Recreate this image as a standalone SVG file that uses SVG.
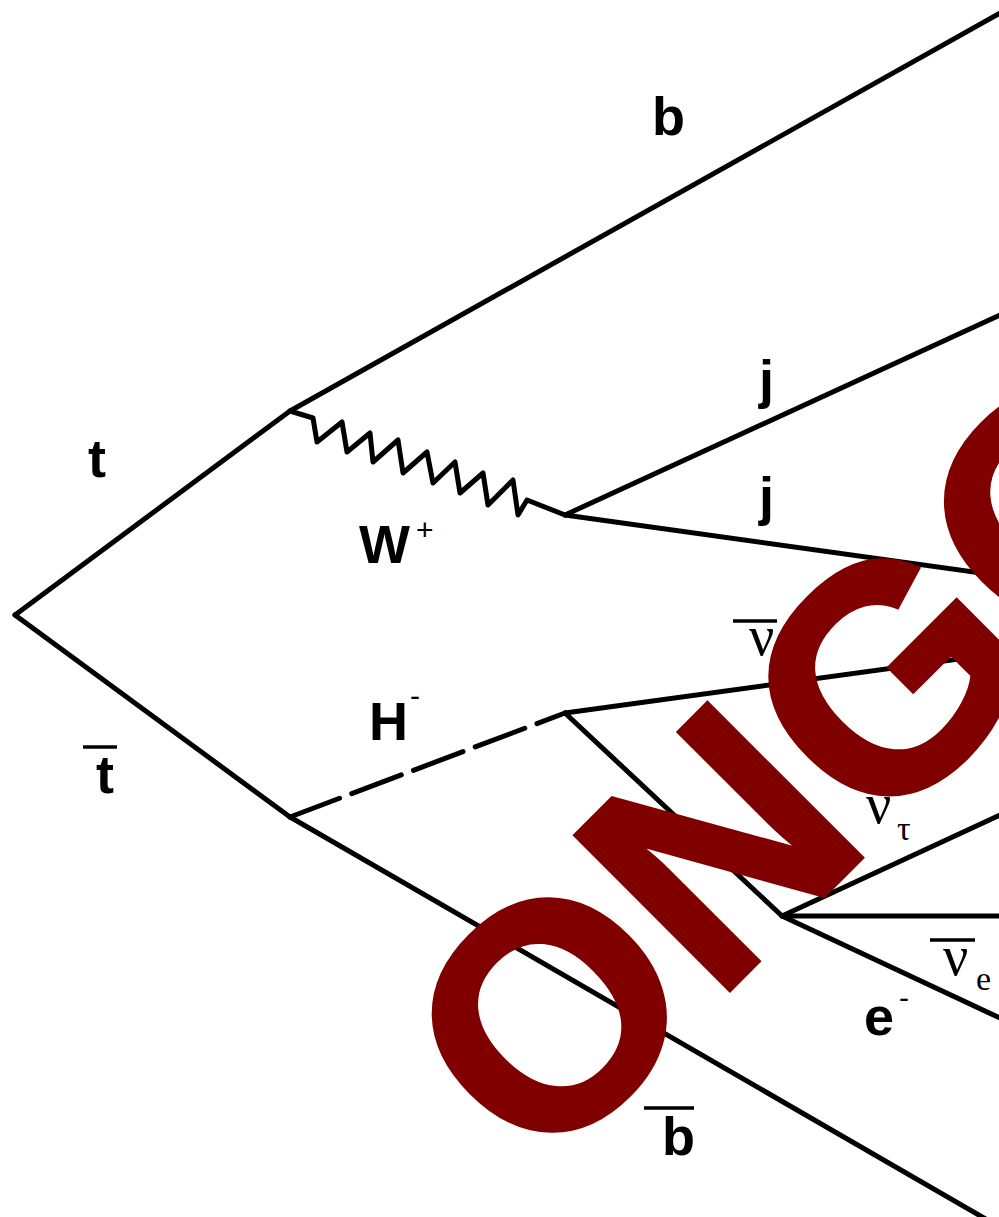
<svg xmlns="http://www.w3.org/2000/svg" width="999" height="1217" viewBox="0 0 999 1217">
<style>
.ln{stroke:#000;stroke-width:5;fill:none;stroke-linecap:round;stroke-linejoin:round}
.lbl{font-family:"Liberation Sans",Arial,sans-serif;font-weight:bold;font-size:54px;fill:#000}
.sup{font-family:"Liberation Sans",Arial,sans-serif;font-size:30px;fill:#000}
.grk{font-family:"Liberation Serif","Times New Roman",serif;font-size:56px;fill:#000}
.sub{font-family:"Liberation Serif","Times New Roman",serif;font-size:34px;fill:#000}
.bar{stroke:#000;stroke-width:3.5}
.wm{font-family:"Liberation Sans",Arial,sans-serif;font-weight:bold;font-size:318px;fill:#800000;stroke:#800000;stroke-width:4}
</style>
<rect width="999" height="1217" fill="#fff"/>
<g id="connectors">
<line class="ln" x1="15" y1="615" x2="290" y2="411"/>
<line class="ln" x1="15" y1="615" x2="290" y2="817"/>
<line class="ln" x1="290" y1="411" x2="1002" y2="12"/>
<path class="ln" d="M290,411 L313,418 L317,442 L342,422 L347,452 L370,433 L373,462 L398,440 L403,473 L427,452 L433,483 L455,462 L460,493 L483,473 L488,505 L513,480 L518,515 L527,500 L565,515"/>
<line class="ln" x1="565" y1="515" x2="1002" y2="314"/>
<line class="ln" x1="565" y1="515" x2="1002" y2="576"/>
<line class="ln" x1="290" y1="817" x2="565" y2="713" stroke-dasharray="53 13" stroke-linecap="butt"/>
<line class="ln" x1="290" y1="817" x2="1003" y2="1229"/>
<line class="ln" x1="565" y1="713" x2="1002" y2="653"/>
<line class="ln" x1="565" y1="713" x2="782" y2="916"/>
<line class="ln" x1="782" y1="916" x2="1002" y2="814"/>
<line class="ln" x1="782" y1="916" x2="1002" y2="916"/>
<line class="ln" x1="782" y1="916" x2="1002" y2="1019"/>
</g>
<g id="label-b"><text class="lbl" x="652" y="135">b</text></g>
<g id="label-t"><text class="lbl" x="88" y="477">t</text></g>
<g id="label-j1"><text class="lbl" x="759" y="398">j</text></g>
<g id="label-j2"><text class="lbl" x="759" y="515">j</text></g>
<g id="label-W"><text class="lbl" x="359" y="563">W</text><text class="sup" x="416" y="540">+</text></g>
<g id="label-H"><text class="lbl" x="369" y="740">H</text><text class="sup" x="410" y="706">-</text></g>
<g id="label-tbar"><line class="bar" x1="83" y1="747" x2="117" y2="747"/><text class="lbl" x="96" y="793">t</text></g>
<g id="label-bbar"><line class="bar" x1="644" y1="1108" x2="694" y2="1108"/><text class="lbl" x="662" y="1155">b</text></g>
<g id="label-e"><text class="lbl" x="864" y="1035">e</text><text class="sup" x="899" y="1008">-</text></g>
<g id="label-nutaubar"><line class="bar" x1="733" y1="621" x2="777" y2="621"/><text class="grk" x="749" y="655">ν</text><text class="sub" x="778" y="668">τ</text></g>
<g id="label-nutau"><text class="grk" x="866" y="823">ν</text><text class="sub" x="897" y="840">τ</text></g>
<g id="label-nuebar"><line class="bar" x1="930" y1="940" x2="975" y2="940"/><text class="grk" x="943" y="975">ν</text><text class="sub" x="976" y="990">e</text></g>
<g id="watermark"><text class="wm" x="540" y="1180" transform="rotate(-45 540 1180)">ONGOING</text></g>
</svg>
